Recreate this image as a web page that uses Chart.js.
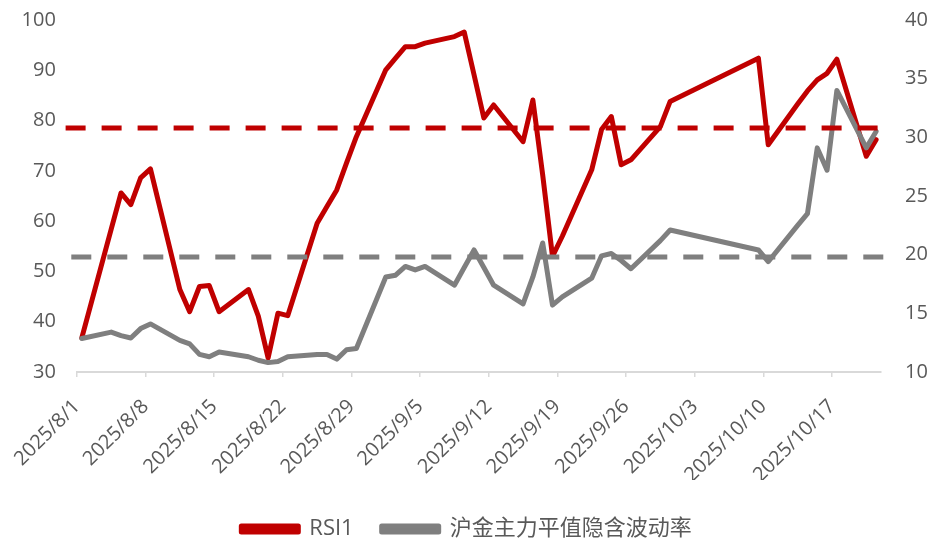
<!DOCTYPE html>
<html>
<head>
<meta charset="utf-8">
<script src="https://cdn.jsdelivr.net/npm/chart.js@4"></script>
<style>
html,body{margin:0;padding:0;background:#fff;}
#wrap{width:933px;height:540px;}
</style>
</head>
<body>
<div id="wrap"><canvas id="rsiChart" width="933" height="540"></canvas></div>
<script>

// DATA

const dates = [
"2025/8/1","2025/8/4","2025/8/5","2025/8/6","2025/8/7","2025/8/8",
"2025/8/11","2025/8/12","2025/8/13","2025/8/14","2025/8/15",
"2025/8/18","2025/8/19","2025/8/20","2025/8/21","2025/8/22",
"2025/8/25","2025/8/26","2025/8/27","2025/8/28","2025/8/29",
"2025/9/1","2025/9/2","2025/9/3","2025/9/4","2025/9/5",
"2025/9/8","2025/9/9","2025/9/10","2025/9/11","2025/9/12",
"2025/9/15","2025/9/16","2025/9/17","2025/9/18","2025/9/19",
"2025/9/22","2025/9/23","2025/9/24","2025/9/25","2025/9/26",
"2025/9/29","2025/9/30",
"2025/10/9","2025/10/10",
"2025/10/13","2025/10/14","2025/10/15","2025/10/16","2025/10/17",
"2025/10/20","2025/10/21"
];

const rsi1 = [
36.8,58.4,65.6,63.3,68.6,70.4,
46.4,42.0,47.0,47.2,42.0,
46.4,41.1,32.8,41.7,41.2,
59.6,62.9,66.2,71.6,76.8,
90.1,92.4,94.7,94.7,95.4,
96.7,97.6,89.1,80.5,83.1,
75.8,84.1,69.2,53.0,57.0,
70.2,78.2,80.8,71.2,72.2,
78.8,83.8,
92.4,75.2,
83.3,85.9,88.1,89.4,92.2,
72.9,76.2
];

const impliedVol = [
12.85,13.4,13.1,12.9,13.7,14.1,
12.7,12.4,11.5,11.3,11.7,
11.3,11.0,10.8,10.9,11.3,
11.5,11.5,11.1,11.9,12.0,
18.1,18.25,19.0,18.7,19.0,
17.4,18.9,20.4,18.9,17.4,
15.8,18.1,21.0,15.7,16.4,
18.0,19.9,20.1,19.5,18.8,
21.2,22.1,
20.4,19.4,
22.5,23.5,29.1,27.2,34.0,
29.1,30.5
];

const rsiLevel = 78.5;
const volLevel = 19.8;

const tickLabels = ["2025/8/1","2025/8/8","2025/8/15","2025/8/22","2025/8/29","2025/9/5",
"2025/9/12","2025/9/19","2025/9/26","2025/10/3","2025/10/10","2025/10/17"];

const seriesNames = ["RSI1","沪金主力平值隐含波动率"];

// HELPERS

const dayMs = 86400000;
function toDay(s){
const p = s.split("/").map(Number);
return Date.UTC(p[0],p[1]-1,p[2]);
}
const day0 = toDay(dates[0]);
function dayIndex(s){ return Math.round((toDay(s)-day0)/dayMs); }

// points sit in the middle of each day slot
const xs = dates.map(d => dayIndex(d)+0.5);
const tickDays = tickLabels.map(dayIndex);
const lastDay = dayIndex(dates[dates.length-1])+1;

const RED = "#C00000";
const GREY = "#7F7F7F";
const TXT = "#595959";
const FONT = "'Open Sans','Noto Sans CJK SC',sans-serif";

const legendShift = {
id:"legendShift",
afterLayout(chart){
chart.legend.top += 10;
chart.legend.bottom += 10;
}
};

// vertical axes: no extra label overhang padding
function noPad(s){
s.paddingTop = 0;
s.paddingBottom = 0;
}

const rsiChart = document.getElementById("rsiChart");

new Chart(rsiChart,{

type:"line",

data:{

datasets:[
{
label:seriesNames[0],
data:xs.map((x,i)=>({x:x,y:rsi1[i]})),
yAxisID:"yL",
borderColor:RED,
backgroundColor:RED,
borderWidth:5,
pointRadius:0,
borderJoinStyle:"round",
borderCapStyle:"round",
order:3
},
{
label:seriesNames[1],
data:xs.map((x,i)=>({x:x,y:impliedVol[i]})),
yAxisID:"yR",
borderColor:GREY,
backgroundColor:GREY,
borderWidth:5,
pointRadius:0,
borderJoinStyle:"round",
borderCapStyle:"round",
order:2
},
{
label:"rsiLevel",
data:[{x:-1.15,y:rsiLevel},{x:lastDay+0.55,y:rsiLevel}],
yAxisID:"yL",
borderColor:RED,
borderWidth:5,
borderDash:[20,16],
pointRadius:0,
clip:false,
order:1
},
{
label:"volLevel",
data:[{x:-0.57,y:volLevel},{x:lastDay+1.45,y:volLevel}],
yAxisID:"yR",
borderColor:GREY,
borderWidth:5,
borderDash:[20,16],
pointRadius:0,
clip:false,
order:0
}
]

},

options:{

responsive:false,
animation:false,

layout:{
padding:{top:20,left:0,right:0,bottom:0}
},

scales:{

x:{
type:"linear",
min:0,
max:lastDay,
afterBuildTicks:s=>{ s.ticks = tickDays.map(v=>({value:v})); },
afterFit:s=>{ s.height = 108; s.paddingTop = 0; },
ticks:{
autoSkip:false,
minRotation:45,
maxRotation:45,
padding:18,
color:TXT,
font:{family:FONT,size:20},
callback:(v)=>{ const i = tickDays.indexOf(v); return i>=0 ? tickLabels[i] : ""; }
},
grid:{
drawOnChartArea:false,
drawTicks:true,
tickLength:5,
color:"#D9D9D9",
lineWidth:1.5
},
border:{color:"#D9D9D9",width:2}
},

yL:{
position:"left",
min:30,
max:100,
afterFit:s=>{ s.width = 73; noPad(s); },
ticks:{
stepSize:10,
padding:21,
color:TXT,
font:{family:FONT,size:20}
},
grid:{display:false,drawTicks:false},
border:{display:false}
},

yR:{
position:"right",
min:10,
max:40,
afterFit:s=>{ s.width = 52; noPad(s); },
ticks:{
stepSize:5,
padding:24,
color:TXT,
font:{family:FONT,size:20}
},
grid:{display:false,drawTicks:false},
border:{display:false}
}

},

plugins:{

tooltip:{enabled:false},

legend:{
position:"bottom",
labels:{
boxWidth:57,
boxHeight:6,
padding:28,
color:TXT,
font:{family:FONT,size:22},
filter:(item)=>seriesNames.includes(item.text),
sort:(a,b)=>a.datasetIndex-b.datasetIndex
}
}

}

},

plugins:[legendShift]

});

</script>
</body>
</html>
